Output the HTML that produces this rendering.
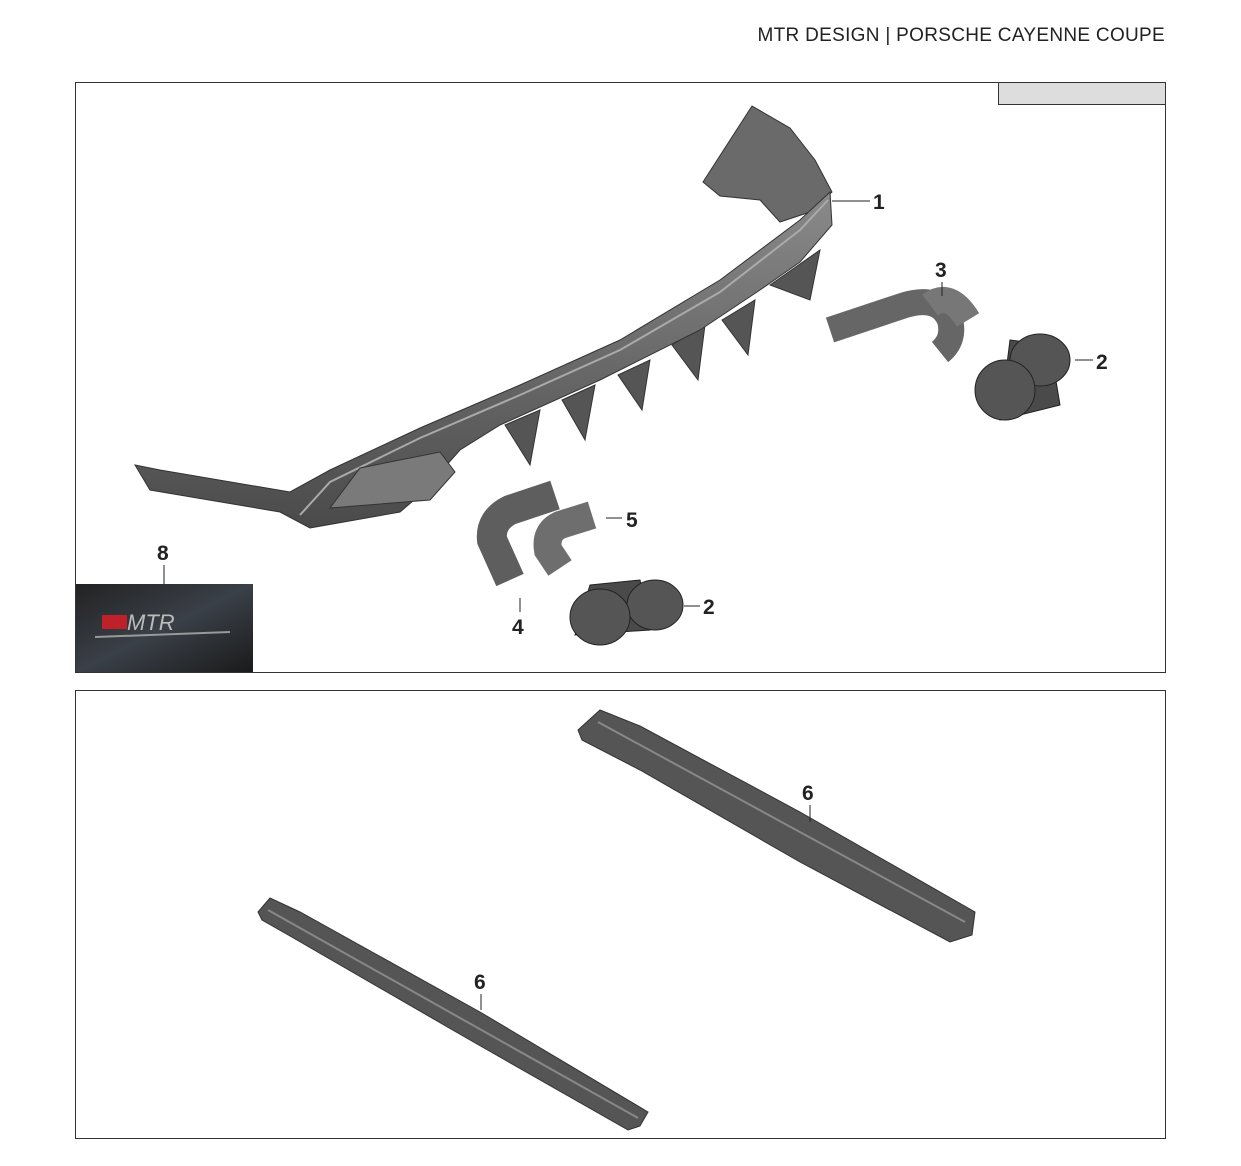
<!DOCTYPE html>
<html><head><meta charset="utf-8"><style>
body{margin:0;background:#fff;width:1241px;height:1166px;position:relative;overflow:hidden;font-family:"Liberation Sans",sans-serif}
</style></head><body>
<div style="position:absolute;right:76px;top:25px;font-size:19px;letter-spacing:0.3px;color:#222">MTR DESIGN | PORSCHE CAYENNE COUPE</div>
<svg width="1241" height="1166" style="position:absolute;left:0;top:0" font-family="Liberation Sans, sans-serif" font-weight="bold" font-size="21" fill="#222">
<defs>
<linearGradient id="g" x1="0" y1="0" x2="0" y2="1"><stop offset="0" stop-color="#8a8a8a"/><stop offset="1" stop-color="#4a4a4a"/></linearGradient>
<linearGradient id="lg" x1="0" y1="0" x2="1" y2="1"><stop offset="0" stop-color="#222"/><stop offset="0.5" stop-color="#3a4048"/><stop offset="1" stop-color="#1a1a1a"/></linearGradient>
</defs>
<rect x="75.5" y="82.5" width="1090" height="590" fill="none" stroke="#333"/>
<rect x="998.5" y="82.5" width="167" height="22" fill="#ddd" stroke="#333"/>
<rect x="75.5" y="690.5" width="1090" height="448" fill="none" stroke="#333"/>
<!-- diffuser -->
<polygon points="703,182 752,106 790,128 815,160 832,192 810,212 780,222 760,200 720,196" fill="#6a6a6a" stroke="#333"/>
<g fill="#555" stroke="#333">
<polygon points="505,425 540,410 530,465"/><polygon points="562,400 595,385 585,440"/><polygon points="618,375 650,360 642,410"/><polygon points="672,345 705,325 698,380"/><polygon points="722,320 755,300 748,355"/><polygon points="770,285 820,250 810,300"/>
</g>
<polygon points="135,465 160,470 290,492 330,470 420,428 520,385 620,340 720,280 800,220 830,192 832,225 800,262 760,290 700,330 600,380 500,425 460,450 420,495 400,512 310,528 280,512 150,490" fill="url(#g)" stroke="#333"/>
<path d="M300,515 L330,482 L420,438 L520,395 L620,350 L720,292 L800,230 L828,200" fill="none" stroke="#aaa" stroke-width="2"/>
<polygon points="330,508 360,468 440,452 455,472 430,500" fill="#7a7a7a" stroke="#333"/>
<line x1="832" y1="201" x2="870" y2="201" stroke="#222"/><text x="873" y="209">1</text>
<!-- pipe 3 -->
<path d="M830,330 L905,305 Q940,295 950,320 Q955,340 940,352" fill="none" stroke="#666" stroke-width="26"/>
<path d="M930,305 Q950,290 968,320" fill="none" stroke="#777" stroke-width="26"/>
<line x1="942" y1="282" x2="942" y2="296" stroke="#222"/><text x="935" y="277">3</text>
<!-- tips 2 -->
<g fill="#555" stroke="#222">
<path d="M1010,340 L1050,345 L1060,405 L1000,420 Z" fill="#4a4a4a"/>
<ellipse cx="1040" cy="360" rx="30" ry="26"/><ellipse cx="1005" cy="390" rx="30" ry="30"/>
</g>
<line x1="1075" y1="360" x2="1093" y2="360" stroke="#222"/><text x="1096" y="369">2</text>
<!-- pipes 4,5 -->
<path d="M555,495 L510,510 Q490,520 492,540 L510,580" fill="none" stroke="#5e5e5e" stroke-width="30"/>
<path d="M592,515 L560,525 Q545,532 548,550 L560,568" fill="none" stroke="#6e6e6e" stroke-width="28"/>
<line x1="606" y1="518" x2="622" y2="518" stroke="#222"/><text x="626" y="527">5</text>
<line x1="520" y1="598" x2="520" y2="612" stroke="#222"/><text x="512" y="634">4</text>
<g stroke="#222">
<path d="M590,585 L640,580 L650,630 L575,635 Z" fill="#4a4a4a"/>
<ellipse cx="655" cy="605" rx="28" ry="25" fill="#555"/><ellipse cx="600" cy="617" rx="30" ry="28" fill="#555"/>
</g>
<line x1="684" y1="606" x2="700" y2="606" stroke="#222"/><text x="703" y="614">2</text>
<!-- logo -->
<line x1="164" y1="565" x2="164" y2="584" stroke="#222"/><text x="157" y="560">8</text>
<rect x="76" y="584" width="177" height="88" fill="url(#lg)"/>
<rect x="102" y="615" width="25" height="14" fill="#c0202a"/>
<text x="127" y="630" font-size="22" font-style="italic" fill="#bbb" font-weight="normal">MTR</text>
<line x1="95" y1="637" x2="230" y2="632" stroke="#999" stroke-width="2"/>
<!-- skirts -->
<polygon points="578,730 600,710 640,726 800,812 975,912 972,935 950,942 800,862 640,770 582,740" fill="#555" stroke="#333"/>
<line x1="598" y1="722" x2="965" y2="922" stroke="#888" stroke-width="2"/>
<line x1="810" y1="805" x2="810" y2="822" stroke="#222"/><text x="802" y="800">6</text>
<polygon points="258,912 270,898 300,912 480,1012 648,1112 640,1126 628,1130 470,1040 290,936 262,920" fill="#555" stroke="#333"/>
<line x1="268" y1="910" x2="638" y2="1118" stroke="#888" stroke-width="2"/>
<line x1="481" y1="994" x2="481" y2="1010" stroke="#222"/><text x="474" y="989">6</text>
</svg>
</body></html>
